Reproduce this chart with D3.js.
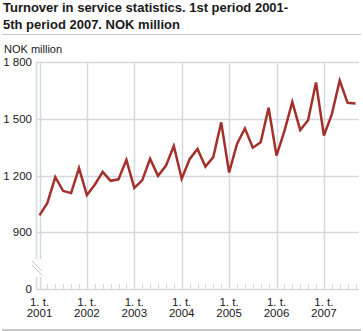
<!DOCTYPE html>
<html>
<head>
<meta charset="utf-8">
<script src="https://cdn.jsdelivr.net/npm/d3@7"></script>
<style>
  body { margin: 0; background: #fff; }
  svg text { font-family: Arial, "Liberation Sans", sans-serif; fill: #1a1a1a; }
</style>
</head>
<body>
<div id="chart"></div>
<script>
// Periods (bimonthly terms), 1st period 2001 - 5th period 2007
var periods = [
  "2001-1", "2001-2", "2001-3", "2001-4", "2001-5", "2001-6",
  "2002-1", "2002-2", "2002-3", "2002-4", "2002-5", "2002-6",
  "2003-1", "2003-2", "2003-3", "2003-4", "2003-5", "2003-6",
  "2004-1", "2004-2", "2004-3", "2004-4", "2004-5", "2004-6",
  "2005-1", "2005-2", "2005-3", "2005-4", "2005-5", "2005-6",
  "2006-1", "2006-2", "2006-3", "2006-4", "2006-5", "2006-6",
  "2007-1", "2007-2", "2007-3", "2007-4", "2007-5"
];

// Turnover, NOK million
var turnover = [
  989, 1055, 1191, 1118, 1107, 1239,
  1097, 1151, 1219, 1172, 1180, 1283,
  1134, 1174, 1288, 1198, 1251, 1356,
  1183, 1286, 1340, 1247, 1297, 1481,
  1216, 1367, 1449, 1347, 1376, 1558,
  1305, 1435, 1589, 1440, 1492, 1692,
  1411, 1523, 1702, 1584, 1581
];

var yearTicks = ["2001-1", "2002-1", "2003-1", "2004-1", "2005-1", "2006-1", "2007-1"];
var yTicks = [900, 1200, 1500, 1800];
var yBreakValue = 600; // shown as "0" below the axis break

var width = 363, height = 331;
var plotLeft = 36, plotRight = 359, plotTop = 62, plotBottom = 289;

var svg = d3.select("#chart").append("svg")
  .attr("width", width)
  .attr("height", height);

// Title
var title = svg.append("text")
  .attr("x", 3)
  .attr("y", 12)
  .style("font-size", "13px")
  .style("font-weight", "bold");
title.append("tspan").attr("x", 3).attr("dy", 0).text("Turnover in service statistics. 1st period 2001-");
title.append("tspan").attr("x", 3).attr("dy", 16.5).text("5th period 2007. NOK million");

svg.append("line")
  .attr("x1", 2).attr("x2", 361)
  .attr("y1", 34.5).attr("y2", 34.5)
  .attr("stroke", "#c8c8c8").attr("stroke-width", 1);

svg.append("text")
  .attr("x", 4).attr("y", 52.5)
  .style("font-size", "11px")
  .text("NOK million");

// Scales
var x = d3.scalePoint()
  .domain(periods)
  .range([39.5, 355.5]);

var y = d3.scaleLinear()
  .domain([yBreakValue, 1800])
  .range([plotBottom, plotTop]);

var gridColor = "#d5d8de";

// Horizontal gridlines
svg.append("g")
  .selectAll("line")
  .data(yTicks)
  .enter().append("line")
  .attr("x1", plotLeft).attr("x2", plotRight)
  .attr("y1", function (d) { return Math.round(y(d)) + 0.5; })
  .attr("y2", function (d) { return Math.round(y(d)) + 0.5; })
  .attr("stroke", gridColor).attr("stroke-width", 1.5);

// Vertical year gridlines
svg.append("g")
  .selectAll("line")
  .data(yearTicks)
  .enter().append("line")
  .attr("x1", function (d) { return Math.round(x(d)) + 0.5; })
  .attr("x2", function (d) { return Math.round(x(d)) + 0.5; })
  .attr("y1", plotTop).attr("y2", plotBottom)
  .attr("stroke", gridColor).attr("stroke-width", 1.5);

// Y axis line
svg.append("line")
  .attr("x1", plotLeft + 0.5).attr("x2", plotLeft + 0.5)
  .attr("y1", plotTop).attr("y2", plotBottom)
  .attr("stroke", gridColor).attr("stroke-width", 1.5);

// X axis line with minor period ticks
svg.append("line")
  .attr("x1", plotLeft).attr("x2", plotRight)
  .attr("y1", plotBottom + 0.5).attr("y2", plotBottom + 0.5)
  .attr("stroke", gridColor).attr("stroke-width", 1.5);

svg.append("g")
  .selectAll("line")
  .data(periods)
  .enter().append("line")
  .attr("x1", function (d) { return Math.round(x(d)) + 0.5; })
  .attr("x2", function (d) { return Math.round(x(d)) + 0.5; })
  .attr("y1", plotBottom - 5).attr("y2", plotBottom)
  .attr("stroke", gridColor).attr("stroke-width", 1);

// Axis break
var brk = svg.append("g");
brk.append("rect")
  .attr("x", plotLeft - 6).attr("y", 259)
  .attr("width", 12).attr("height", 18)
  .attr("fill", "#fff");
[0, 4].forEach(function (o) {
  brk.append("line")
    .attr("x1", plotLeft - 4).attr("y1", 261 + o)
    .attr("x2", plotLeft + 6).attr("y2", 271 + o)
    .attr("stroke", "#c4c7cc").attr("stroke-width", 1);
});

// Y labels
svg.append("g")
  .selectAll("text")
  .data(yTicks)
  .enter().append("text")
  .attr("x", 32)
  .attr("y", function (d) { return y(d) + 4; })
  .attr("text-anchor", "end")
  .style("font-size", "11.5px")
  .text(function (d) { return d3.format(",")(d).replace(/,/g, " "); });

svg.append("text")
  .attr("x", 32)
  .attr("y", y(yBreakValue) + 4)
  .attr("text-anchor", "end")
  .style("font-size", "11.5px")
  .text("0");

// X labels
var xl = svg.append("g")
  .selectAll("text")
  .data(yearTicks)
  .enter().append("text")
  .attr("text-anchor", "middle")
  .style("font-size", "11.5px");
xl.append("tspan")
  .attr("x", function (d) { return x(d); })
  .attr("y", 306)
  .text("1. t.");
xl.append("tspan")
  .attr("x", function (d) { return x(d); })
  .attr("y", 317)
  .text(function (d) { return d.split("-")[0]; });

// Line
var line = d3.line()
  .x(function (d, i) { return x(periods[i]); })
  .y(function (d) { return y(d); });

svg.append("path")
  .datum(turnover)
  .attr("d", line)
  .attr("fill", "none")
  .attr("stroke", "#a3302b")
  .attr("stroke-width", 2.5)
  .attr("stroke-linejoin", "miter");

// Bottom rule
svg.append("rect")
  .attr("x", 2).attr("y", 329)
  .attr("width", 359).attr("height", 2)
  .attr("fill", "#c8c8c8");
</script>
</body>
</html>
